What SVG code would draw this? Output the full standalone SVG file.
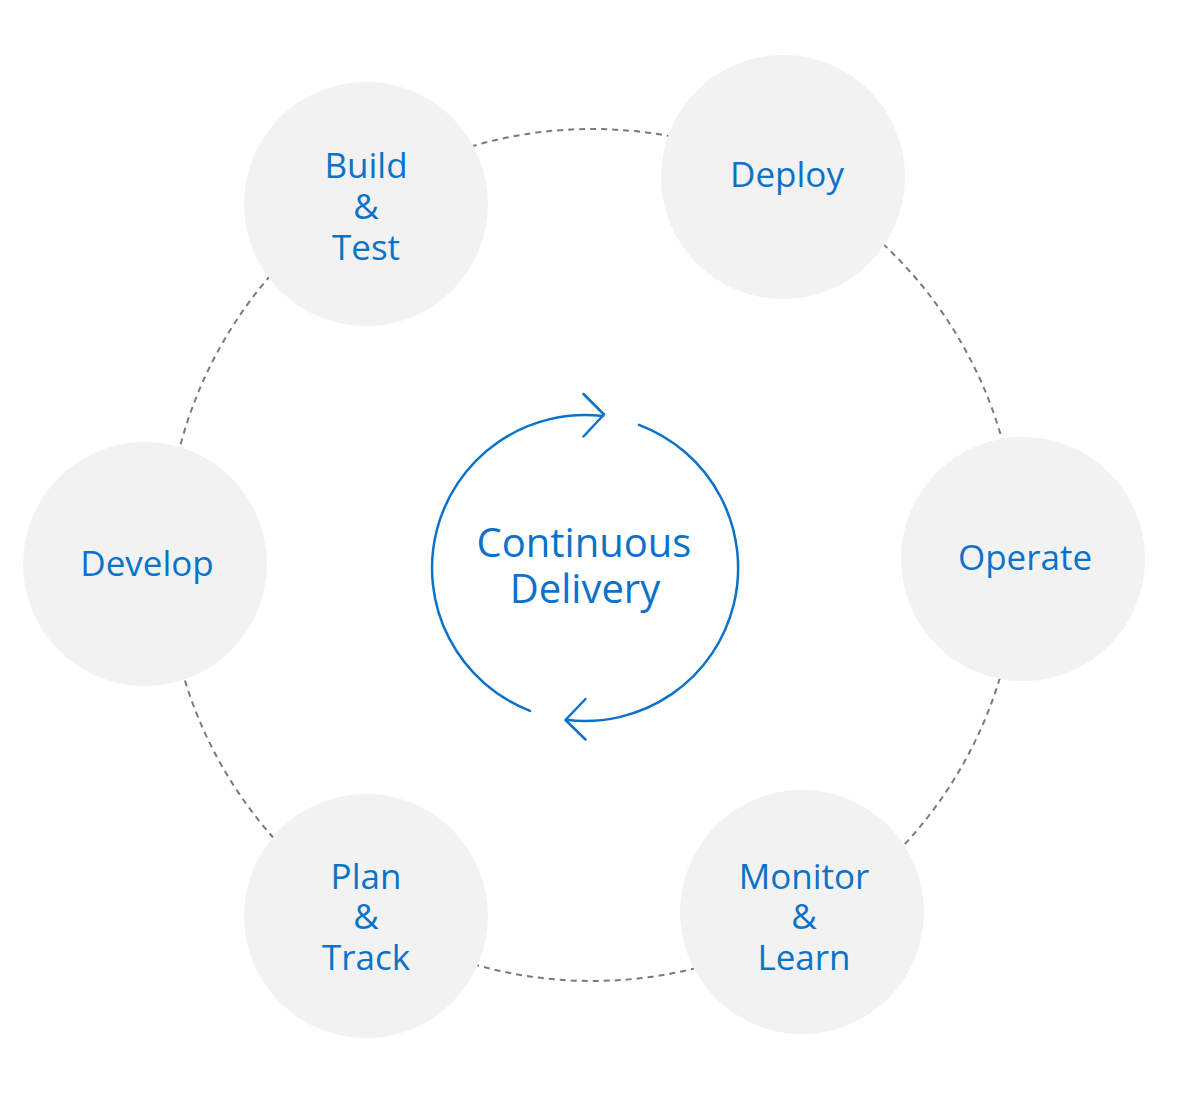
<svg xmlns="http://www.w3.org/2000/svg" width="1179" height="1104" viewBox="0 0 1179 1104">
  <style>
    .link { fill: none; stroke: #7a7a7a; stroke-width: 2; stroke-dasharray: 6 5; }
    .node { fill: #f2f2f2; }
    .label { font-family: "Open Sans", "Noto Sans", "Liberation Sans", sans-serif; font-size: 35px; fill: #0a72c8; text-anchor: middle; }
    .center-label { font-family: "Open Sans", "Noto Sans", "Liberation Sans", sans-serif; font-size: 40px; fill: #0a72c8; text-anchor: middle; }
    .cycle { fill: none; stroke: #0a72c8; stroke-width: 2.5; stroke-linecap: round; stroke-linejoin: round; }
  </style>
  <rect width="1179" height="1104" fill="#ffffff"/>

  <g id="connectors">
    <path class="link" d="M 166.1 563.9 A 426 426 0 0 1 361.2 196.9"/>
    <path class="link" d="M 361.2 196.9 A 426 426 0 0 1 784.1 174.8"/>
    <path class="link" d="M 784.1 174.8 A 426 426 0 0 1 1018 558.7"/>
    <path class="link" d="M 1018 558.7 A 426 426 0 0 1 808.2 922"/>
    <path class="link" d="M 808.2 922 A 426 426 0 0 1 365.6 915.9"/>
    <path class="link" d="M 365.6 915.9 A 426 426 0 0 1 166.1 563.9"/>
  </g>

  <g id="node-build-test">
    <circle class="node" cx="366" cy="204" r="122"/>
    <text class="label" x="366" y="178">Build</text>
    <text class="label" x="366" y="219">&amp;</text>
    <text class="label" x="366" y="260">Test</text>
  </g>
  <g id="node-deploy">
    <circle class="node" cx="783" cy="177" r="122"/>
    <text class="label" x="787" y="187">Deploy</text>
  </g>
  <g id="node-operate">
    <circle class="node" cx="1023" cy="559" r="122"/>
    <text class="label" x="1025" y="570">Operate</text>
  </g>
  <g id="node-monitor-learn">
    <circle class="node" cx="802" cy="912" r="122"/>
    <text class="label" x="804" y="889">Monitor</text>
    <text class="label" x="804" y="929">&amp;</text>
    <text class="label" x="804" y="970">Learn</text>
  </g>
  <g id="node-plan-track">
    <circle class="node" cx="366" cy="916" r="122"/>
    <text class="label" x="366" y="889">Plan</text>
    <text class="label" x="366" y="929">&amp;</text>
    <text class="label" x="366" y="970">Track</text>
  </g>
  <g id="node-develop">
    <circle class="node" cx="145" cy="564" r="122"/>
    <text class="label" x="147" y="576">Develop</text>
  </g>

  <g id="node-continuous-delivery">
    <path class="cycle" d="M 530 710.8 A 153 153 0 0 1 603 416.1"/>
    <polyline class="cycle" points="583.5,394 604,414.5 583.5,436.5"/>
    <path class="cycle" d="M 639 424.8 A 153 153 0 0 1 566 719.8"/>
    <polyline class="cycle" points="585.5,699 565.5,720 585.5,739.5"/>
    <text class="center-label" x="584" y="557">Continuous</text>
    <text class="center-label" x="585" y="603">Delivery</text>
  </g>
</svg>
